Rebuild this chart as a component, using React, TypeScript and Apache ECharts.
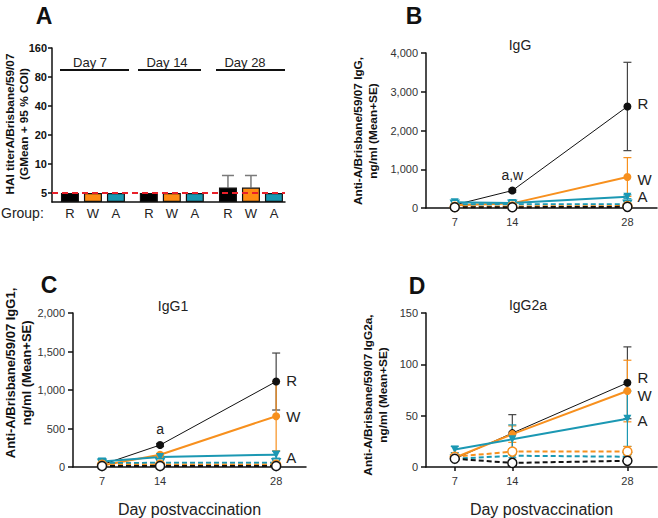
import React, { useEffect, useRef } from 'react';
import * as echarts from 'echarts';

const FONT = '"Liberation Sans", Arial, Helvetica, sans-serif';
const BLACK = '#111111';
const ORANGE = '#F7901E';
const TEAL = '#1B98B3';
const RED = '#E8202A';

// ---------- Panel A (HAI titer, log2 axis) ----------
const A_GROUPS = ['R', 'W', 'A', 'R', 'W', 'A', 'R', 'W', 'A'];
const A_POS = [0, 1, 2, 3.43, 4.43, 5.43, 6.87, 7.87, 8.87];
const A_GMEAN = [5, 5, 5, 5, 5, 5, 5.7, 5.7, 5];
const A_CI_UPPER = [5, 5, 5, 5, 5, 5, 7.6, 7.6, 5];
const A_TICKS = [5, 10, 20, 40, 80, 160];
const A_DAYS = ['Day 7', 'Day 14', 'Day 28'];
const A_LOD = 5;

// ---------- Panels B-D ----------
const DAYS = [7, 14, 28];
const DAY_TICKS = [7, 14, 28];

// IgG (B)
const IGG_R = [80, 450, 2620];
const IGG_R_SE = [15, 40, 1140];
const IGG_W = [70, 120, 800];
const IGG_W_SE = [10, 20, 500];
const IGG_A = [150, 130, 290];
const IGG_A_SE = [40, 20, 50];
const IGG_RC = [20, 20, 30];
const IGG_WC = [30, 40, 50];
const IGG_AC = [100, 100, 100];
const IGG_SIG = ['', 'a,w', ''];

// IgG1 (C)
const IGG1_R = [30, 285, 1110];
const IGG1_R_SE = [5, 20, 370];
const IGG1_W = [20, 160, 660];
const IGG1_W_SE = [5, 15, 450];
const IGG1_A = [70, 130, 160];
const IGG1_A_SE = [40, 15, 45];
const IGG1_RC = [12, 12, 12];
const IGG1_WC = [30, 30, 30];
const IGG1_AC = [50, 55, 55];
const IGG1_SIG = ['', 'a', ''];

// IgG2a (D)
const IGG2A_R = [8, 33, 82];
const IGG2A_R_SE = [1, 18, 35];
const IGG2A_W = [9, 32, 74];
const IGG2A_W_SE = [1, 8, 30];
const IGG2A_A = [17, 27, 47];
const IGG2A_A_SE = [3, 14, 27];
const IGG2A_RC = [8, 4, 6];
const IGG2A_RC_SE = [1, 1, 1];
const IGG2A_WC = [10, 15, 15];
const IGG2A_WC_SE = [1, 3, 5];
const IGG2A_AC = [8, 11, 10];
const IGG2A_AC_SE = [1, 2, 2];
const IGG2A_SIG = ['', '', ''];

const A_OFF = 0.31;
const tf = (v: number) => Math.log2(v / A_LOD) + A_OFF;
const itf = (t: number) => Math.round(A_LOD * Math.pow(2, t - A_OFF));

const groupColor = (g: string) => (g === 'R' ? '#000000' : g === 'W' ? '#FF8C12' : '#1797B1');

function errorSeries(
  xi: number,
  data: number[][],
  color: string,
  capHalf: number,
  lowerCap: boolean,
  lineWidth: number,
  z = 2
) {
  return {
    type: 'custom',
    xAxisIndex: xi,
    yAxisIndex: xi,
    z,
    silent: true,
    encode: { x: 0, y: [1, 2] },
    data,
    renderItem: (params: any, api: any) => {
      const x = api.value(0);
      const lo = api.value(1);
      const hi = api.value(2);
      const pHi = api.coord([x, hi]);
      const pLo = api.coord([x, lo]);
      const style = { stroke: color, lineWidth };
      const children: any[] = [
        { type: 'line', shape: { x1: pHi[0], y1: pHi[1], x2: pLo[0], y2: pLo[1] }, style },
        { type: 'line', shape: { x1: pHi[0] - capHalf, y1: pHi[1], x2: pHi[0] + capHalf, y2: pHi[1] }, style },
      ];
      if (lowerCap) {
        children.push({
          type: 'line',
          shape: { x1: pLo[0] - capHalf, y1: pLo[1], x2: pLo[0] + capHalf, y2: pLo[1] },
          style,
        });
      }
      return { type: 'group', children };
    },
  };
}

type Grp = {
  key: string;
  color: string;
  values: number[];
  se: number[];
  dashed: boolean;
  open: boolean;
  symbol: string;
  rotate: number;
  width: number;
  size: number;
};

function panelSeries(
  xi: number,
  groups: Grp[],
  sig: string[],
  labelOffsets: Record<string, number>
) {
  const out: any[] = [];
  groups.forEach((g) => {
    const data = DAYS.map((d, i) => [d, Math.max(0, g.values[i] - g.se[i]), g.values[i] + g.se[i]]);
    out.push(errorSeries(xi, data, g.key === 'R' ? '#444444' : g.color, 4, true, 1.2, 2));
  });
  groups.forEach((g) => {
    const data = DAYS.map((d, i) => {
      const item: any = { value: [d, g.values[i]] };
      if (!g.dashed && i === DAYS.length - 1) {
        item.label = {
          show: true,
          position: 'right',
          distance: 6,
          offset: [0, labelOffsets[g.key] || 0],
          formatter: g.key,
          fontSize: 15,
          fontFamily: FONT,
          color: '#222',
        };
      }
      if (!g.dashed && g.key === 'R' && sig[i]) {
        item.label = {
          show: true,
          position: 'top',
          distance: 5,
          formatter: sig[i],
          fontSize: 14,
          fontFamily: FONT,
          color: '#222',
        };
      }
      return item;
    });
    out.push({
      type: 'line',
      xAxisIndex: xi,
      yAxisIndex: xi,
      z: g.dashed ? 4 : 3,
      data,
      symbol: g.symbol,
      symbolRotate: g.rotate,
      symbolSize: g.size,
      showSymbol: true,
      silent: true,
      lineStyle: { color: g.color, width: g.width, type: g.dashed ? [5, 3] : 'solid' },
      itemStyle: g.open
        ? { color: '#ffffff', borderColor: g.color, borderWidth: 1.5 }
        : { color: g.color, borderColor: g.color, borderWidth: 0 },
    });
  });
  return out;
}

function mk(values: number[], se: number[], key: string, color: string, dashed: boolean, symbol: string, rotate: number, width: number, size: number): Grp {
  return { key, color, values, se, dashed, open: dashed, symbol, rotate, width, size };
}

function groupsFor(R: number[], RSE: number[], W: number[], WSE: number[], A: number[], ASE: number[], RC: number[], RCSE: number[], WC: number[], WCSE: number[], AC: number[], ACSE: number[]): Grp[] {
  return [
    mk(R, RSE, 'R', BLACK, false, 'circle', 0, 1, 8),
    mk(W, WSE, 'W', ORANGE, false, 'circle', 0, 2, 8),
    mk(A, ASE, 'A', TEAL, false, 'triangle', 180, 2, 8),
    mk(AC, ACSE, 'Ac', TEAL, true, 'triangle', 180, 2, 8),
    mk(WC, WCSE, 'Wc', ORANGE, true, 'circle', 0, 2, 9),
    mk(RC, RCSE, 'Rc', BLACK, true, 'circle', 0, 2, 9),
  ];
}

const ZERO3 = [0, 0, 0];

export default function App() {
  const ref = useRef<HTMLDivElement>(null);
  useEffect(() => {
    document.body.style.margin = '0';
    if (!ref.current) return;
    const chart = echarts.init(ref.current, undefined, { renderer: 'svg' });

    const axisLine = { show: true, onZero: false, lineStyle: { color: BLACK, width: 1.5 } };
    const axisTick = { show: true, length: 5, lineStyle: { color: BLACK, width: 1.5 } };
    const lblStyle = { fontSize: 11, color: '#333', fontFamily: FONT };
    const thousands = (v: number) => v.toLocaleString('en-US');

    const lineX = (gi: number, withName: boolean) => ({
      gridIndex: gi,
      type: 'value',
      min: 3.5,
      max: 31.6,
      axisLine,
      axisTick: { ...axisTick, length: 4, customValues: DAY_TICKS },
      axisLabel: { ...lblStyle, margin: 8, customValues: DAY_TICKS },
      splitLine: { show: false },
      name: withName ? 'Day postvaccination' : '',
      nameLocation: 'middle',
      nameGap: 34,
      nameTextStyle: { fontSize: 16, color: '#222', fontFamily: FONT },
    });
    const lineY = (gi: number, max: number, interval: number) => ({
      gridIndex: gi,
      type: 'value',
      min: 0,
      max,
      interval,
      axisLine,
      axisTick,
      axisLabel: { ...lblStyle, margin: 8, formatter: thousands },
      splitLine: { show: false },
    });

    const aBars = A_POS.map((p, i) => ({
      value: [p, tf(A_GMEAN[i])],
      itemStyle: { color: groupColor(A_GROUPS[i]), borderColor: '#111', borderWidth: 1.2 },
    }));
    const aErr = A_POS.map((p, i) => [p, tf(A_GMEAN[i]), tf(A_CI_UPPER[i])]).filter((d) => d[2] > d[1] + 1e-9);

    const bGroups = groupsFor(IGG_R, IGG_R_SE, IGG_W, IGG_W_SE, IGG_A, IGG_A_SE, IGG_RC, ZERO3, IGG_WC, ZERO3, IGG_AC, ZERO3);
    const cGroups = groupsFor(IGG1_R, IGG1_R_SE, IGG1_W, IGG1_W_SE, IGG1_A, IGG1_A_SE, IGG1_RC, ZERO3, IGG1_WC, ZERO3, IGG1_AC, ZERO3);
    const dGroups = groupsFor(IGG2A_R, IGG2A_R_SE, IGG2A_W, IGG2A_W_SE, IGG2A_A, IGG2A_A_SE, IGG2A_RC, IGG2A_RC_SE, IGG2A_WC, IGG2A_WC_SE, IGG2A_AC, IGG2A_AC_SE);

    const text = (x: number, y: number, t: string, size: number, weight: string, extra: any = {}) => ({
      type: 'text',
      x,
      y,
      silent: true,
      ...extra,
      style: {
        text: t,
        fontSize: size,
        fontWeight: weight,
        fontFamily: FONT,
        fill: '#111',
        align: 'center',
        verticalAlign: 'middle',
        ...(extra.style || {}),
      },
    });
    const vtext = (x: number, y: number, t: string, size: number, lh: number) =>
      text(x, y, t, size, 'bold', { rotation: Math.PI / 2, style: { lineHeight: lh } });

    const dayCenters = [90, 167, 245];
    const dayLines = [
      [60, 129],
      [138, 201],
      [216, 285],
    ];

    const graphic: any[] = [
      text(44, 16, 'A', 23, 'bold'),
      text(414, 16, 'B', 23, 'bold'),
      text(49, 285, 'C', 23, 'bold'),
      text(417, 286, 'D', 23, 'bold'),
      text(520, 45, 'IgG', 14, 'normal', { style: { fill: '#222' } }),
      text(173, 306, 'IgG1', 14, 'normal', { style: { fill: '#222' } }),
      text(528, 305, 'IgG2a', 14, 'normal', { style: { fill: '#222' } }),
      vtext(17, 124, 'HAI titerA/Brisbane/59/07\n(GMean + 95 % COI)', 11.8, 14),
      vtext(365, 131, 'Anti-A/Brisbane/59/07 IgG,\nng/ml (Mean+SE)', 11.8, 15),
      vtext(18, 373, 'Anti-A/Brisbane/59/07 IgG1,\nng/ml (Mean+SE)', 13, 16),
      vtext(375, 395, 'Anti-A/Brisbane/59/07 IgG2a,\nng/ml (Mean+SE)', 11.8, 15),
      text(1, 213, 'Group:', 14, 'normal', { style: { align: 'left', fill: '#222' } }),
    ];
    A_DAYS.forEach((d, i) => {
      graphic.push(text(dayCenters[i], 62, d, 13, 'normal', { style: { fill: '#222' } }));
      graphic.push({
        type: 'line',
        silent: true,
        shape: { x1: dayLines[i][0], y1: 70, x2: dayLines[i][1], y2: 70 },
        style: { stroke: '#111', lineWidth: 2 },
      });
    });

    const option: any = {
      animation: false,
      backgroundColor: '#ffffff',
      textStyle: { fontFamily: FONT },
      grid: [
        { left: 52, top: 48, width: 233, height: 154, containLabel: false },
        { left: 426, top: 53, width: 231, height: 155, containLabel: false },
        { left: 73, top: 313, width: 233, height: 155, containLabel: false },
        { left: 426, top: 313, width: 231, height: 155, containLabel: false },
      ],
      xAxis: [
        {
          gridIndex: 0,
          type: 'value',
          min: -0.78,
          max: 9.35,
          axisLine,
          axisTick: { show: false },
          axisLabel: {
            fontSize: 13,
            color: '#222',
            fontFamily: FONT,
            margin: 5,
            customValues: A_POS,
            formatter: (v: number) => {
              const i = A_POS.findIndex((p) => Math.abs(p - v) < 1e-6);
              return i >= 0 ? A_GROUPS[i] : '';
            },
          },
          splitLine: { show: false },
        },
        lineX(1, false),
        lineX(2, true),
        lineX(3, true),
      ],
      yAxis: [
        {
          gridIndex: 0,
          type: 'value',
          min: 0,
          max: tf(160),
          axisLine,
          axisTick: { ...axisTick, length: 4, customValues: A_TICKS.map(tf) },
          axisLabel: {
            fontSize: 11,
            fontWeight: 'bold',
            color: '#111',
            fontFamily: FONT,
            margin: 5,
            customValues: A_TICKS.map(tf),
            formatter: (v: number) => String(itf(v)),
          },
          splitLine: { show: false },
        },
        lineY(1, 4000, 1000),
        lineY(2, 2000, 500),
        lineY(3, 150, 50),
      ],
      graphic,
      series: [
        {
          type: 'bar',
          xAxisIndex: 0,
          yAxisIndex: 0,
          barWidth: 18,
          silent: true,
          z: 2,
          data: aBars,
          markLine: {
            silent: true,
            symbol: 'none',
            label: { show: false },
            lineStyle: { color: RED, type: [6, 4], width: 2 },
            data: [{ yAxis: tf(A_LOD) }],
            z: 5,
          },
        },
        errorSeries(0, aErr, '#7a7a7a', 6, false, 1.5, 1),
        ...panelSeries(1, bGroups, IGG_SIG, { R: -3, W: 2, A: 0 }),
        ...panelSeries(2, cGroups, IGG1_SIG, { R: -1, W: 0, A: 3 }),
        ...panelSeries(3, dGroups, IGG2A_SIG, { R: -5, W: 4, A: 2 }),
      ],
    };
    chart.setOption(option);
    return () => chart.dispose();
  }, []);
  return <div ref={ref} style={{ width: 658, height: 518 }} />;
}
